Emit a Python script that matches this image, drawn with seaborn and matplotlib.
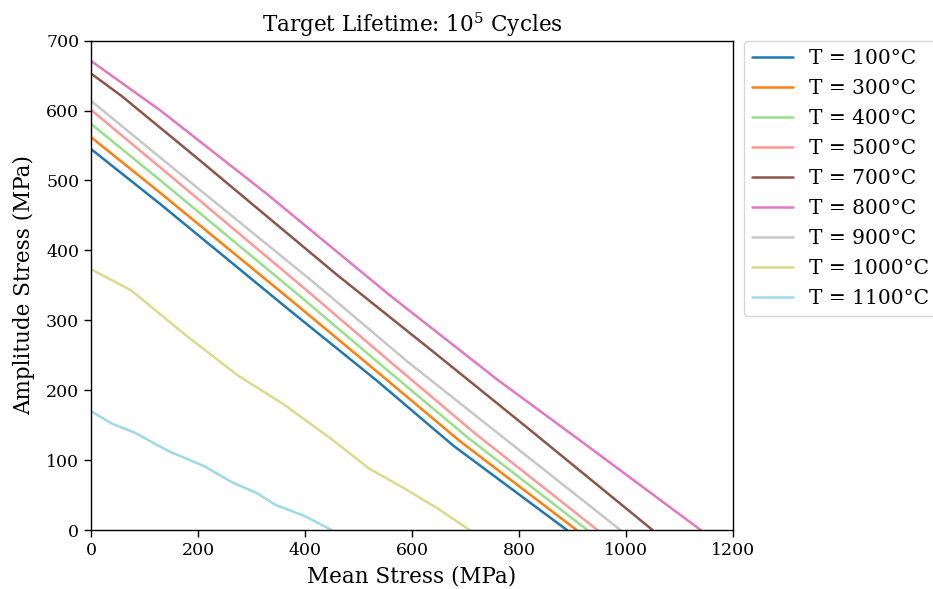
import matplotlib
matplotlib.use("Agg")
import matplotlib.pyplot as plt
import numpy as np
import pandas as pd
import seaborn as sns

# Constant-life (amplitude vs. mean stress) curves at 1e5 cycles, one per temperature
temps = ["T = 100°C", "T = 300°C", "T = 400°C", "T = 500°C", "T = 700°C",
         "T = 800°C", "T = 900°C", "T = 1000°C", "T = 1100°C"]

mean_100 = [0, 130, 372, 534, 677, 890]
amp_100 = [545, 466, 314, 214, 121, 0]

mean_300 = [0, 130, 380, 545, 690, 908]
amp_300 = [562, 482, 325, 220, 127, 0]

mean_400 = [0, 130, 390, 555, 705, 928]
amp_400 = [581, 500, 335, 228, 132, 0]

mean_500 = [0, 140, 400, 565, 720, 947]
amp_500 = [601, 512, 345, 237, 137, 0]

mean_700 = [0, 57, 200, 460, 640, 810, 1050]
amp_700 = [653, 621, 531, 365, 255, 150, 0]

mean_800 = [0, 130, 330, 560, 760, 920, 1140]
amp_800 = [671, 600, 480, 335, 215, 125, 0]

mean_900 = [0, 150, 420, 590, 750, 990]
amp_900 = [614, 520, 352, 242, 145, 0]

mean_1000 = [0, 75, 180, 275, 360, 450, 520, 585, 650, 708]
amp_1000 = [373, 343, 277, 221, 180, 130, 88, 60, 30, 0]

mean_1100 = [0, 40, 80, 145, 210, 265, 310, 345, 400, 450]
amp_1100 = [170, 152, 140, 113, 92, 68, 53, 36, 20, 0]

colors = ["#1f77b4", "#ff7f0e", "#98df8a", "#ff9896", "#8c564b",
          "#e377c2", "#c7c7c7", "#dbdb8d", "#9edae5"]

series = [
    (mean_100, amp_100), (mean_300, amp_300), (mean_400, amp_400),
    (mean_500, amp_500), (mean_700, amp_700), (mean_800, amp_800),
    (mean_900, amp_900), (mean_1000, amp_1000), (mean_1100, amp_1100),
]

frames = []
for label, (xs, ys) in zip(temps, series):
    frames.append(pd.DataFrame({"mean": xs, "amp": ys, "temp": label}))
df = pd.concat(frames, ignore_index=True)

sns.set_theme(style="ticks", rc={
    "axes.edgecolor": "black",
    "axes.labelcolor": "black",
    "text.color": "black",
    "xtick.color": "black",
    "ytick.color": "black",
    "axes.linewidth": 1.0,
    "xtick.direction": "out",
    "ytick.direction": "out",
})
plt.rcParams["font.family"] = ["DejaVu Serif"]
plt.rcParams["mathtext.fontset"] = "dejavuserif"

fig = plt.figure(figsize=(9.33, 5.89), dpi=100)
ax = fig.add_axes([0.0975, 0.100, 0.688, 0.831])

sns.lineplot(data=df, x="mean", y="amp", hue="temp", hue_order=temps,
             palette=colors, estimator=None, sort=False, linewidth=1.8, ax=ax)

ax.set_xlim(0, 1200)
ax.set_ylim(0, 700)
ax.set_xticks(np.arange(0, 1201, 200))
ax.set_yticks(np.arange(0, 701, 100))
ax.tick_params(labelsize=12.5, length=5, width=1)
ax.set_xlabel("Mean Stress (MPa)", fontsize=15.5, labelpad=5)
ax.set_ylabel("Amplitude Stress (MPa)", fontsize=15.5, labelpad=8)
ax.set_title("Target Lifetime: $10^5$ Cycles", fontsize=15.5)
for s in ax.spines.values():
    s.set_visible(True)

ax.legend(loc="upper left", bbox_to_anchor=(1.018, 1.0), borderaxespad=0,
          fontsize=14.5, labelspacing=0.55, frameon=True, framealpha=0.8,
          edgecolor="0.8", fancybox=True, title=None)

fig.savefig("out.png", dpi=100)
